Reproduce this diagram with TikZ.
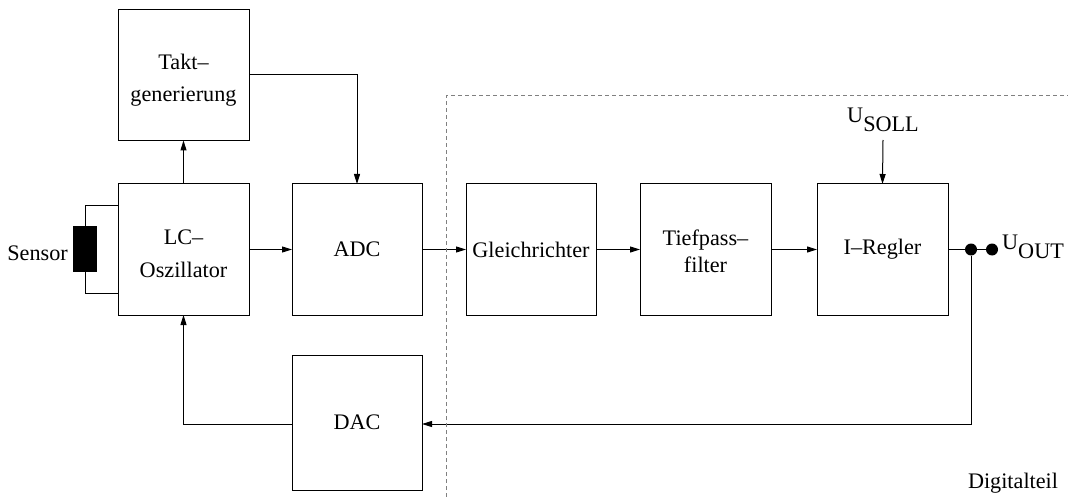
\documentclass[tikz,border=0pt]{standalone}
\usepackage{fontspec}
\setmainfont{Liberation Serif}
\usetikzlibrary{arrows.meta}
% two-line block caption: leading, downward shift, first line, second line
\newcommand{\twoline}[4]{\fontsize{22.2}{#1}\selectfont\raisebox{-#2}[\height][\depth]{\begin{tabular}{@{}c@{}}#3\\#4\end{tabular}}}
\begin{document}
\begin{tikzpicture}[x=1pt,y=-1pt,
  every node/.style={font=\fontsize{22.2}{34}\selectfont},
  block/.style={draw,line width=1pt,minimum width=131pt,minimum height=131pt,align=center,inner sep=0pt,outer sep=0pt},
  wire/.style={line width=1pt},
  sig/.style={wire,-{Triangle[length=10pt,width=6pt]}},
  dot/.style={circle,fill=black,minimum size=12pt,inner sep=0pt},
  border/.style={gray,line width=1pt,dash pattern=on 4pt off 3pt}]
\useasboundingbox (0,0) rectangle (1068,497);

% blocks
\node[block] (takt) at (183.5,75) {\twoline{32pt}{4.6pt}{Takt--}{generierung}};
\node[block] (lc) at (183.5,249.5) {\twoline{33pt}{4.4pt}{LC--}{Oszillator}};
\node[block,minimum width=130pt] (adc) at (357,249.5) {ADC};
\node[block,minimum width=130pt] (gl) at (531,249.5) {Gleichrichter};
\node[block] (tp) at (705.5,249.5) {\twoline{27pt}{3.6pt}{Tiefpass--}{filter}};
\node[block] (ir) at (882.5,249.5) {I--Regler};
\node[block,minimum width=130pt,minimum height=135pt] (dac) at (357,422.5) {DAC};

% sensor element
\node[draw,fill=black,minimum width=23pt,minimum height=45pt,inner sep=0pt] (sens) at (85,249) {};
\node[anchor=east,inner sep=0pt] (senslbl) at (68,253) {Sensor};
\coordinate (st) at (sens.north |- 0,206);
\coordinate (sb) at (sens.south |- 0,293);
\draw[wire] (lc.west |- st) -- (st) -- (sens.north);
\draw[wire] (lc.west |- sb) -- (sb) -- (sens.south);

% clock and signal path
\draw[sig] (lc.north) -- (takt.south);
\draw[sig] (takt.east) -| (adc.north);
\draw[sig] (lc.east) -- (adc.west);
\draw[sig] (adc.east) -- (gl.west);
\draw[sig] (gl.east) -- (tp.west);
\draw[sig] (tp.east) -- (ir.west);

% set point
\node (usoll) at (883,120) {U\raisebox{-0.4em}{SOLL}};
\draw[sig] (883,140) -- (ir.north);

% output and feedback
\node[dot] (d1) at (971,249.5) {};
\node[dot] (d2) at (992,249.5) {};
\node[anchor=west,inner sep=0pt] (uout) at (1002,247) {U\raisebox{-0.4em}{OUT}};
\draw[wire] (ir.east) -- (d1) -- (d2);
\coordinate (fb) at (971,424);
\draw[sig] (d1) -- (fb) -- (dac.east |- fb);
\draw[sig] (dac.west |- fb) -| (lc.south);

% digital section border
\coordinate (c0) at (446,497);
\coordinate (c1) at (446,96);
\coordinate (c2) at (1068,96);
\draw[border] (c0) -- (c1) -- (c2);
\node (dig) at (1013,483) {Digitalteil};
\end{tikzpicture}
\end{document}
